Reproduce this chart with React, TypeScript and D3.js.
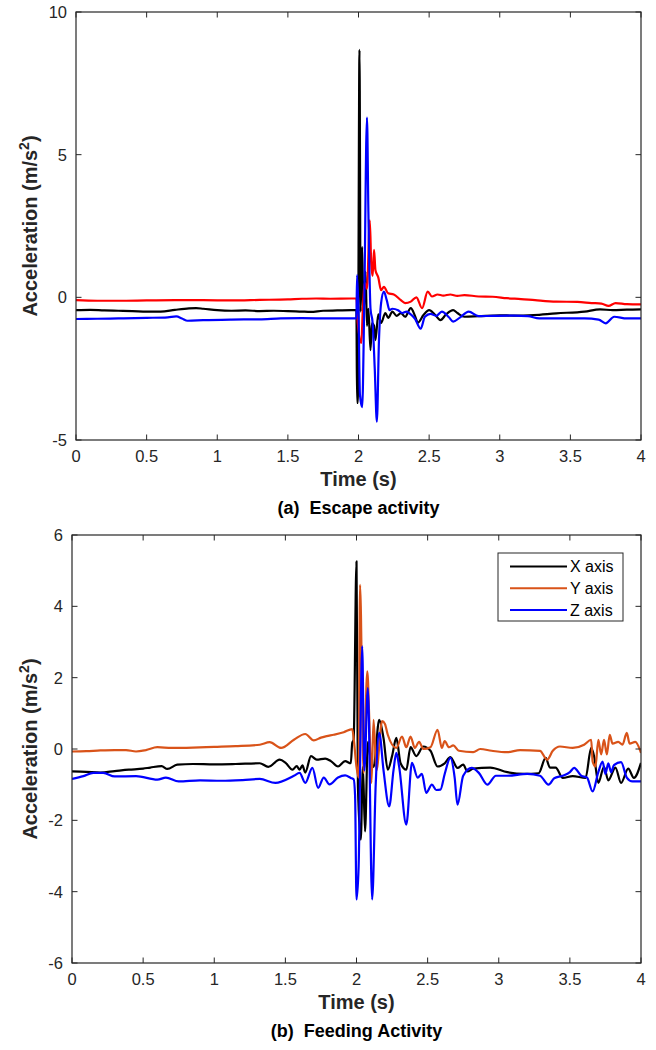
import React from "react";
import * as d3 from "d3";

// ---------- DATA ----------
const xTicks = [0, 0.5, 1, 1.5, 2, 2.5, 3, 3.5, 4];
const yTicksEscape = [-5, 0, 5, 10];
const yTicksFeeding = [-6, -4, -2, 0, 2, 4, 6];
const legendLabels = ["X axis", "Y axis", "Z axis"];

// (a) Escape activity: [time s, acceleration m/s^2]
const escapeX: [number, number][] = [
  [0, -0.45], [0.1, -0.44], [0.2, -0.46], [0.3, -0.47], [0.4, -0.48], [0.5, -0.5], [0.6, -0.5], [0.7, -0.44],
  [0.8, -0.39], [0.85, -0.38], [0.9, -0.4], [1.0, -0.45], [1.1, -0.47], [1.2, -0.46], [1.3, -0.48], [1.4, -0.47],
  [1.5, -0.48], [1.6, -0.5], [1.66, -0.51], [1.75, -0.47], [1.85, -0.46], [1.95, -0.45], [1.985, -0.45],
  [1.99, -3.7], [1.995, -3.7], [2.007, 8.67], [2.015, -0.5], [2.026, 1.77], [2.035, -0.6], [2.05, 0.9],
  [2.06, -1.0], [2.07, -0.4], [2.085, -1.85], [2.095, -0.9], [2.11, -1.0], [2.12, -1.5], [2.14, -0.6],
  [2.16, -0.9], [2.19, -0.55], [2.21, -0.72], [2.24, -0.5], [2.27, -0.65], [2.3, -0.55], [2.33, -0.68],
  [2.37, -0.38], [2.4, -0.65], [2.42, -0.89], [2.46, -0.62], [2.5, -0.45], [2.54, -0.6], [2.58, -0.8],
  [2.62, -0.6], [2.67, -0.45], [2.7, -0.55], [2.75, -0.68], [2.85, -0.66], [3.0, -0.63], [3.1, -0.64],
  [3.24, -0.62], [3.4, -0.56], [3.6, -0.5], [3.71, -0.42], [3.8, -0.45], [3.9, -0.43], [4.0, -0.42],
];
const escapeY: [number, number][] = [
  [0, -0.1], [0.15, -0.12], [0.3, -0.12], [0.5, -0.11], [0.7, -0.1], [0.9, -0.1], [1.1, -0.11], [1.3, -0.09],
  [1.5, -0.07], [1.6, -0.05], [1.7, -0.04], [1.8, -0.05], [1.95, -0.04], [1.985, -0.04], [1.995, -0.9],
  [2.02, -1.6], [2.03, -0.5], [2.045, 0.5], [2.06, 0.3], [2.08, 2.7], [2.09, 1.2], [2.1, 0.75], [2.11, 1.66],
  [2.12, 0.95], [2.14, 0.7], [2.16, 0.25], [2.18, 0.37], [2.21, 0.14], [2.25, 0.1], [2.3, -0.1], [2.33, -0.2],
  [2.37, -0.15], [2.41, 0.0], [2.45, -0.38], [2.49, 0.2], [2.52, 0.03], [2.56, 0.1], [2.6, 0.06], [2.65, 0.1],
  [2.7, 0.05], [2.75, 0.08], [2.85, 0.03], [2.95, 0.02], [3.05, -0.03], [3.15, -0.06], [3.25, -0.1],
  [3.4, -0.15], [3.55, -0.16], [3.65, -0.2], [3.72, -0.22], [3.77, -0.3], [3.82, -0.2], [3.9, -0.24], [4.0, -0.25],
];
const escapeZ: [number, number][] = [
  [0, -0.76], [0.15, -0.75], [0.3, -0.74], [0.5, -0.72], [0.65, -0.7], [0.71, -0.67], [0.75, -0.74],
  [0.79, -0.82], [0.9, -0.8], [1.1, -0.78], [1.3, -0.77], [1.45, -0.74], [1.6, -0.73], [1.8, -0.74],
  [1.95, -0.74], [1.985, -0.74], [1.99, 0.78], [2.0, -0.5], [2.01, -3.4], [2.026, -3.85], [2.04, -0.5],
  [2.06, 6.3], [2.07, 3.0], [2.085, -0.4], [2.1, -0.9], [2.115, -2.5], [2.13, -4.36], [2.145, -1.5],
  [2.16, -0.2], [2.18, 0.2], [2.2, -0.1], [2.22, -0.45], [2.24, -0.4], [2.28, -0.45], [2.31, -0.55],
  [2.34, -0.5], [2.37, -0.6], [2.4, -0.75], [2.44, -1.1], [2.47, -0.68], [2.51, -0.58], [2.55, -0.65],
  [2.59, -0.5], [2.64, -0.7], [2.67, -0.85], [2.72, -0.7], [2.78, -0.5], [2.85, -0.66], [2.95, -0.65],
  [3.1, -0.64], [3.2, -0.66], [3.28, -0.74], [3.45, -0.74], [3.6, -0.74], [3.7, -0.78], [3.75, -0.91],
  [3.81, -0.68], [3.9, -0.74], [4.0, -0.74],
];

// (b) Feeding activity
const feedingX: [number, number][] = [
  [0, -0.63], [0.1, -0.64], [0.2, -0.66], [0.3, -0.62], [0.4, -0.58], [0.5, -0.55], [0.55, -0.52],
  [0.63, -0.48], [0.67, -0.56], [0.74, -0.44], [0.85, -0.42], [1.0, -0.43], [1.15, -0.42], [1.32, -0.4],
  [1.38, -0.5], [1.46, -0.3], [1.5, -0.38], [1.55, -0.58], [1.58, -0.48], [1.6, -0.58], [1.62, -0.46],
  [1.64, -0.66], [1.68, -0.2], [1.72, -0.3], [1.78, -0.27], [1.82, -0.34], [1.87, -0.49], [1.92, -0.34],
  [1.96, -0.4], [1.97, 0.17], [1.98, 0.26], [2.0, 5.26], [2.01, -1.05], [2.03, -2.54], [2.045, -0.5],
  [2.06, -2.31], [2.08, 0.2], [2.1, -0.3], [2.12, -0.5], [2.16, 0.82], [2.19, 0.3], [2.22, -0.58],
  [2.25, -0.2], [2.28, 0.31], [2.31, -0.4], [2.35, -0.58], [2.38, 0.05], [2.42, -0.2], [2.47, 0.07],
  [2.52, -0.05], [2.57, -0.49], [2.62, -0.4], [2.66, -0.23], [2.71, -0.53], [2.75, -0.44], [2.78, -0.63],
  [2.82, -0.55], [2.94, -0.52], [3.06, -0.65], [3.18, -0.7], [3.28, -0.68], [3.33, -0.25], [3.36, -0.52],
  [3.4, -0.52], [3.45, -0.81], [3.52, -0.76], [3.61, -0.81], [3.65, 0.03], [3.67, -0.2], [3.7, -0.95],
  [3.74, -0.5], [3.77, -0.88], [3.82, -0.52], [3.86, -0.95], [3.91, -0.55], [3.95, -0.81], [4.0, -0.39],
];
const feedingY: [number, number][] = [
  [0, -0.07], [0.1, -0.06], [0.2, -0.04], [0.3, -0.03], [0.38, -0.03], [0.45, -0.07], [0.52, -0.03],
  [0.6, 0.05], [0.7, 0.03], [0.85, 0.04], [1.0, 0.06], [1.15, 0.08], [1.32, 0.12], [1.39, 0.19],
  [1.47, 0.03], [1.56, 0.26], [1.64, 0.42], [1.7, 0.24], [1.75, 0.32], [1.79, 0.36], [1.84, 0.4],
  [1.91, 0.47], [1.97, 0.56], [1.98, 0.3], [2.0, -0.5], [2.015, -0.8], [2.025, 4.6], [2.05, -0.67],
  [2.076, 2.18], [2.09, 0.82], [2.105, -0.95], [2.12, 0.82], [2.14, -0.6], [2.18, 0.78], [2.2, 0.7],
  [2.22, 0.4], [2.28, 0.03], [2.32, 0.35], [2.35, 0.05], [2.38, 0.35], [2.41, 0.03], [2.44, 0.2],
  [2.47, 0.0], [2.52, 0.05], [2.57, 0.54], [2.6, 0.03], [2.62, 0.22], [2.65, 0.05], [2.68, 0.1],
  [2.72, -0.05], [2.82, -0.09], [2.87, 0.0], [2.95, -0.05], [3.06, -0.09], [3.15, -0.03], [3.29, -0.05],
  [3.34, -0.3], [3.38, -0.05], [3.43, 0.07], [3.52, 0.03], [3.6, 0.12], [3.65, 0.26], [3.66, -0.35],
  [3.68, -0.49], [3.7, 0.26], [3.72, -0.15], [3.74, 0.26], [3.76, -0.15], [3.78, 0.4], [3.8, 0.15],
  [3.84, 0.2], [3.87, 0.12], [3.9, 0.45], [3.92, 0.15], [3.96, 0.2], [4.0, -0.11],
];
const feedingZ: [number, number][] = [
  [0, -0.84], [0.08, -0.76], [0.15, -0.67], [0.22, -0.67], [0.3, -0.77], [0.45, -0.76], [0.6, -0.86],
  [0.66, -0.8], [0.75, -0.91], [0.9, -0.88], [1.05, -0.89], [1.2, -0.87], [1.32, -0.84], [1.43, -0.95],
  [1.56, -0.75], [1.6, -0.67], [1.64, -0.95], [1.69, -0.53], [1.73, -1.09], [1.77, -0.8], [1.81, -0.99],
  [1.87, -0.8], [1.92, -0.74], [1.96, -0.81], [1.98, -0.85], [1.99, -1.3], [2.0, -4.22], [2.015, -3.29],
  [2.04, 2.88], [2.055, -0.6], [2.08, 1.71], [2.11, -4.22], [2.135, -1.0], [2.16, 0.45], [2.19, -0.6],
  [2.23, -1.61], [2.26, -0.6], [2.28, -0.11], [2.3, -0.5], [2.35, -2.12], [2.39, -0.39], [2.43, -0.8],
  [2.46, -0.7], [2.49, -1.23], [2.53, -1.0], [2.56, -1.15], [2.59, -1.14], [2.62, -0.7], [2.66, -0.25],
  [2.69, -0.8], [2.71, -1.56], [2.75, -0.75], [2.81, -0.53], [2.86, -0.67], [2.92, -1.0], [2.98, -0.75],
  [3.06, -0.75], [3.2, -0.7], [3.29, -0.75], [3.35, -1.0], [3.39, -0.82], [3.45, -0.75], [3.5, -0.65],
  [3.53, -0.53], [3.58, -0.75], [3.62, -0.8], [3.66, -1.19], [3.7, -0.65], [3.73, -0.35], [3.75, -0.7],
  [3.77, -0.4], [3.79, -0.65], [3.81, -0.45], [3.86, -0.37], [3.9, -0.8], [3.94, -0.91], [4.0, -0.91],
];

// ---------- STYLE ----------
const FONT = "'Liberation Sans', Arial, Helvetica, sans-serif";
const AXIS = "#262626";

type Series = { data: [number, number][]; color: string; label: string };

type PanelProps = {
  left: number; right: number; top: number; bottom: number;
  yDomain: [number, number]; yTicks: number[];
  series: Series[]; caption: string; legend?: boolean;
};

function Panel({ left, right, top, bottom, yDomain, yTicks, series, caption, legend }: PanelProps) {
  const x = d3.scaleLinear().domain([0, 4]).range([left, right]);
  const y = d3.scaleLinear().domain(yDomain).range([bottom, top]);
  const line = d3.line<[number, number]>().x((d) => x(d[0])).y((d) => y(d[1])).curve(d3.curveMonotoneX);
  const tl = 5.5;
  const cx = (left + right) / 2;
  const cy = (top + bottom) / 2;
  const clipId = `clip-${top}`;
  return (
    <g>
      <defs>
        <clipPath id={clipId}>
          <rect x={left} y={top} width={right - left} height={bottom - top} />
        </clipPath>
      </defs>
      <g clipPath={`url(#${clipId})`}>
        {series.map((s) => (
          <path key={s.label} d={line(s.data) || ""} fill="none" stroke={s.color} strokeWidth={2.2} strokeLinejoin="round" />
        ))}
      </g>
      {/* box */}
      <rect x={left} y={top} width={right - left} height={bottom - top} fill="none" stroke={AXIS} strokeWidth={1.2} />
      {/* x ticks */}
      {xTicks.map((t) => (
        <g key={`xt${t}`}>
          <line x1={x(t)} x2={x(t)} y1={bottom} y2={bottom - tl} stroke={AXIS} strokeWidth={1} />
          <line x1={x(t)} x2={x(t)} y1={top} y2={top + tl} stroke={AXIS} strokeWidth={1} />
          <text x={x(t)} y={bottom + 22} textAnchor="middle" fontSize={16.5} fill={AXIS} fontFamily={FONT}>
            {String(t)}
          </text>
        </g>
      ))}
      {/* y ticks */}
      {yTicks.map((t) => (
        <g key={`yt${t}`}>
          <line x1={left} x2={left + tl} y1={y(t)} y2={y(t)} stroke={AXIS} strokeWidth={1} />
          <line x1={right} x2={right - tl} y1={y(t)} y2={y(t)} stroke={AXIS} strokeWidth={1} />
          <text x={left - 9} y={y(t)} dy="0.36em" textAnchor="end" fontSize={16.5} fill={AXIS} fontFamily={FONT}>
            {String(t)}
          </text>
        </g>
      ))}
      {/* axis labels */}
      <text x={cx} y={bottom + 46} textAnchor="middle" fontSize={20} fontWeight="bold" fill={AXIS} fontFamily={FONT}>
        Time (s)
      </text>
      <text transform={`translate(37,${cy}) rotate(-90)`} textAnchor="middle" fontSize={20} fontWeight="bold" fill={AXIS} fontFamily={FONT}>
        Acceleration (m/s<tspan fontSize={14} dy={-8}>2</tspan><tspan dy={8}>)</tspan>
      </text>
      <text x={cx} y={bottom + 74} textAnchor="middle" fontSize={18} fontWeight="bold" fill="#000" fontFamily={FONT} style={{ whiteSpace: "pre" }}>
        {caption}
      </text>
      {legend && (
        <g>
          <rect x={498} y={553} width={125} height={68} fill="#fff" stroke={AXIS} strokeWidth={1} />
          {series.map((s, i) => (
            <g key={`lg${i}`}>
              <line x1={510} x2={567} y1={566.5 + i * 21.7} y2={566.5 + i * 21.7} stroke={s.color} strokeWidth={2} />
              <text x={570} y={566.5 + i * 21.7} dy="0.36em" fontSize={16} fill="#000" fontFamily={FONT}>
                {s.label}
              </text>
            </g>
          ))}
        </g>
      )}
    </g>
  );
}

export default function App() {
  const top: Series[] = [
    { data: escapeX, color: "#000000", label: legendLabels[0] },
    { data: escapeY, color: "#ff0000", label: legendLabels[1] },
    { data: escapeZ, color: "#0000ff", label: legendLabels[2] },
  ];
  const bottom: Series[] = [
    { data: feedingX, color: "#000000", label: legendLabels[0] },
    { data: feedingY, color: "#D95319", label: legendLabels[1] },
    { data: feedingZ, color: "#0000ff", label: legendLabels[2] },
  ];
  return (
    <svg width={656} height={1050} style={{ position: "absolute", left: 0, top: 0, background: "#fff" }}>
      <rect x={0} y={0} width={656} height={1050} fill="#fff" />
      <Panel left={76} right={641} top={12} bottom={440} yDomain={[-5, 10]} yTicks={yTicksEscape}
        series={top} caption={"(a)  Escape activity"} />
      <Panel left={72} right={641} top={535} bottom={963} yDomain={[-6, 6]} yTicks={yTicksFeeding}
        series={bottom} caption={"(b)  Feeding Activity"} legend />
    </svg>
  );
}
